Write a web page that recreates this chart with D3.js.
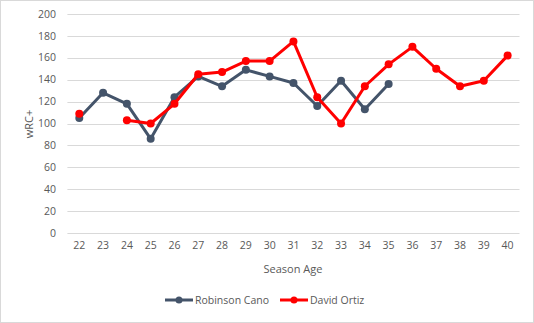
<!DOCTYPE html>
<html><head><meta charset="utf-8">
<script src="https://cdn.jsdelivr.net/npm/d3@7"></script>
<style>body{margin:0;background:#fff}svg{display:block}text{font-family:"Open Sans",sans-serif;fill:#595959}</style>
</head><body>
<script>
const ages = [22,23,24,25,26,27,28,29,30,31,32,33,34,35,36,37,38,39,40];
const cano = [105,128,118,86,124,143,134,149,143,137,116,139,113,136,null,null,null,null,null];
const ortiz = [109,null,103,100,118,145,147,157,157,175,124,100,134,154,170,150,134,139,162];
const yTicks = [0,20,40,60,80,100,120,140,160,180,200];
const seriesNames = ["Robinson Cano","David Ortiz"];
const colors = ["#44546A","#FF0000"];

const W=534,H=323;
const svg=d3.select("body").append("svg").attr("width",W).attr("height",H);
svg.append("rect").attr("x",0.5).attr("y",0.5).attr("width",W-1).attr("height",H-1).attr("fill","#fff").attr("stroke","#D9D9D9");

const x=d3.scaleBand().domain(ages).range([67.4,519.5]);
const y=d3.scaleLinear().domain([0,200]).range([233,14]);

const g=svg.append("g");
g.selectAll("line.grid").data(yTicks).join("line").attr("class","grid")
 .attr("x1",67.4).attr("x2",519.5).attr("y1",d=>Math.round(y(d))+0.5).attr("y2",d=>Math.round(y(d))+0.5)
 .attr("stroke","#D9D9D9").attr("stroke-width",1);
g.selectAll("text.yt").data(yTicks).join("text").attr("class","yt")
 .attr("x",56).attr("y",d=>y(d)).attr("dy","0.35em").attr("text-anchor","end").attr("font-size",10.5).text(d=>d);
g.selectAll("text.xt").data(ages).join("text").attr("class","xt")
 .attr("x",d=>x(d)+x.bandwidth()/2).attr("y",249).attr("text-anchor","middle").attr("font-size",10.5).text(d=>d);
svg.append("text").attr("x",293).attr("y",273).attr("text-anchor","middle").attr("font-size",11).text("Season Age");
svg.append("text").attr("transform","translate(33,124) rotate(-90)").attr("text-anchor","middle").attr("font-size",11).text("wRC+");

const line=d3.line().defined(d=>d.v!=null).x(d=>x(d.a)+x.bandwidth()/2).y(d=>y(d.v));
[cano,ortiz].forEach((vals,i)=>{
  const data=ages.map((a,j)=>({a,v:vals[j]}));
  svg.append("path").datum(data).attr("d",line).attr("fill","none").attr("stroke",colors[i]).attr("stroke-width",3).attr("stroke-linejoin","round");
  svg.selectAll(null).data(data.filter(d=>d.v!=null)).join("circle")
   .attr("cx",d=>x(d.a)+x.bandwidth()/2).attr("cy",d=>y(d.v)).attr("r",4).attr("fill",colors[i]);
});

const leg=[{x:165,name:seriesNames[0],c:colors[0]},{x:280,name:seriesNames[1],c:colors[1]}];
leg.forEach(l=>{
  svg.append("line").attr("x1",l.x).attr("x2",l.x+28).attr("y1",300).attr("y2",300).attr("stroke",l.c).attr("stroke-width",3);
  svg.append("circle").attr("cx",l.x+14).attr("cy",300).attr("r",3.5).attr("fill",l.c);
  svg.append("text").attr("x",l.x+30).attr("y",300).attr("dy","0.35em").attr("font-size",10.5).text(l.name);
});
</script>
</body></html>
